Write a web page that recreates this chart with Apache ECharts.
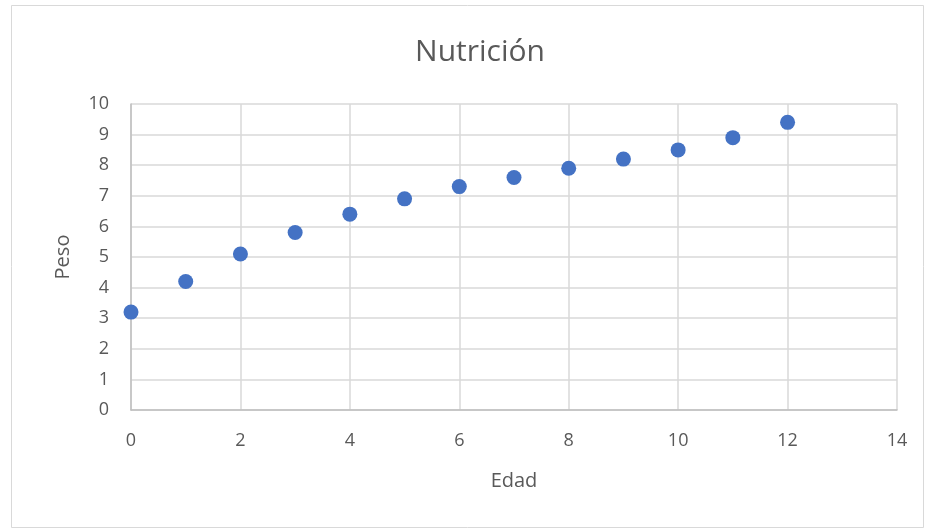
<!DOCTYPE html>
<html>
<head>
<meta charset="utf-8">
<script src="https://cdn.jsdelivr.net/npm/echarts@6/dist/echarts.min.js"></script>
<style>
  html, body { margin: 0; padding: 0; background: #fff; }
  #chart { width: 925px; height: 529px; }
</style>
</head>
<body>
<div id="chart"></div>
<script>
// Edad (años) y peso (kg)
const edad = [0, 1, 2, 3, 4, 5, 6, 7, 8, 9, 10, 11, 12];
const peso = [3.2, 4.2, 5.1, 5.8, 6.4, 6.9, 7.3, 7.6, 7.9, 8.2, 8.5, 8.9, 9.4];

const titulo = 'Nutrición';
const tituloX = 'Edad';
const tituloY = 'Peso';

const FONT = '"Open Sans", sans-serif';
const TEXT = '#595959';

const chart = echarts.init(document.getElementById('chart'), null, { renderer: 'canvas' });

chart.setOption({
  animation: false,
  backgroundColor: '#ffffff',
  title: {
    text: titulo,
    left: 475,
    top: 32,
    textAlign: 'center',
    textStyle: { fontFamily: FONT, fontSize: 30, fontWeight: 'normal', color: TEXT }
  },
  graphic: [{
    type: 'rect',
    shape: { x: 11.5, y: 5.5, width: 912, height: 522 },
    style: { fill: null, stroke: '#d9d9d9', lineWidth: 1 },
    silent: true
  }],
  grid: { left: 131, top: 104, right: 28, bottom: 119, containLabel: false },
  xAxis: {
    type: 'value',
    min: 0, max: 14, interval: 2,
    name: tituloX,
    nameLocation: 'middle',
    nameGap: 61,
    nameTextStyle: { fontFamily: FONT, fontSize: 20, color: TEXT },
    axisLine: { show: true, onZero: false, lineStyle: { color: '#bfbfbf', width: 1.5 } },
    axisTick: { show: false },
    axisLabel: { fontFamily: FONT, fontSize: 18, color: TEXT, margin: 22 },
    splitLine: { show: true, lineStyle: { color: '#d9d9d9', width: 1.5 } }
  },
  yAxis: {
    type: 'value',
    min: 0, max: 10, interval: 1,
    name: tituloY,
    nameLocation: 'middle',
    nameGap: 58,
    nameTextStyle: { fontFamily: FONT, fontSize: 20, color: TEXT },
    axisLine: { show: true, onZero: false, lineStyle: { color: '#bfbfbf', width: 1.5 } },
    axisTick: { show: false },
    axisLabel: { fontFamily: FONT, fontSize: 18, color: TEXT, margin: 22 },
    splitLine: { show: true, lineStyle: { color: '#d9d9d9', width: 1.5 } }
  },
  series: [{
    type: 'scatter',
    data: edad.map((e, i) => [e, peso[i]]),
    symbol: 'circle',
    symbolSize: 15,
    itemStyle: { color: '#4472c4', opacity: 1 },
    clip: false
  }]
});
</script>
</body>
</html>
